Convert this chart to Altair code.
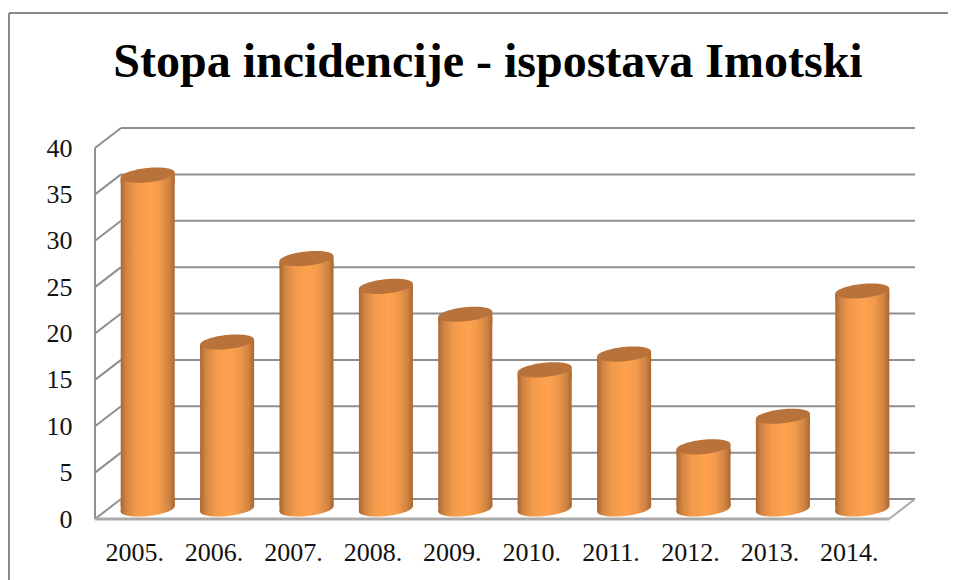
import altair as alt
import pandas as pd

years = ["2005.", "2006.", "2007.", "2008.", "2009.", "2010.", "2011.", "2012.", "2013.", "2014."]
values = [36, 18, 27, 24, 21, 15, 16.7, 6.7, 10, 23.5]
grid_levels = [0, 5, 10, 15, 20, 25, 30, 35, 40]
title_text = "Stopa incidencije - ispostava Imotski"

W, H = 794, 371
DX, DY = 26, -20
BAR = 54
FONT = "Liberation Serif"
GRID = "#8f8f8f"
ELL = "M-1,0.1 A1,0.26 -6 1 1 1,-0.1 A1,0.26 -6 1 1 -1,0.1 Z"
WEDGE_TOP = "M-1,0.1 L1,-0.1 L1,0.3 L-1,0.3 Z"
WEDGE_BOTTOM = "M-1,0.1 L1,-0.1 L1,-0.3 L-1,-0.3 Z"

df = pd.DataFrame({"year": years, "v": values, "zero": [0] * len(years)})
gf = pd.DataFrame({"v": grid_levels})

body = alt.Gradient(
    gradient="linear", x1=0, x2=1, y1=0, y2=0,
    stops=[
        alt.GradientStop(offset=0, color="#a9662f"),
        alt.GradientStop(offset=0.1, color="#d08443"),
        alt.GradientStop(offset=0.28, color="#f29a4b"),
        alt.GradientStop(offset=0.55, color="#ffa24f"),
        alt.GradientStop(offset=0.72, color="#f29a4b"),
        alt.GradientStop(offset=0.9, color="#cf8342"),
        alt.GradientStop(offset=1, color="#a9662f"),
    ],
)

xs = alt.Scale(domain=years, paddingInner=0.3, paddingOuter=0.15)
ys = alt.Scale(domain=[0, 40], nice=False)
y_axis = alt.Axis(values=grid_levels, labelFont=FONT, labelFontSize=26, labelColor="#111111",
                  domain=False, ticks=False, grid=False, labelPadding=23)
X = alt.X("year:N", scale=xs, sort=None, title=None,
          axis=alt.Axis(labelAngle=0, labelFont=FONT, labelFontSize=26, labelColor="#111111",
                        domain=False, ticks=False, grid=False, labelPadding=20))


def Y(field):
    return alt.Y(field, scale=ys, title=None, axis=y_axis)


back = alt.Chart(gf).mark_rule(color=GRID, strokeWidth=2, xOffset=DX, x2Offset=DX, yOffset=DY).encode(
    x=alt.value(0), x2=alt.value(W), y=Y("v:Q"))
diag = alt.Chart(gf).mark_rule(color=GRID, strokeWidth=2, y2Offset=DY).encode(
    x=alt.value(0), x2=alt.value(DX), y=Y("v:Q"), y2="v:Q")
left = alt.Chart(gf).mark_rule(color=GRID, strokeWidth=2).encode(
    x=alt.value(0), y=alt.value(0), y2=alt.value(H))
floor = alt.Chart(gf.head(1)).mark_rule(color="#aaaaaa", strokeWidth=3).encode(
    x=alt.value(0), x2=alt.value(W), y=Y("v:Q"))
rdiag = alt.Chart(gf.head(1)).mark_rule(color="#aaaaaa", strokeWidth=2, y2Offset=DY).encode(
    x=alt.value(W), x2=alt.value(W + DX), y=Y("v:Q"), y2="v:Q")


def symbol(shape, fill, field):
    return alt.Chart(df).mark_point(shape=shape, size=BAR * BAR, filled=True, fill=fill, opacity=1,
                                    xOffset=13, yOffset=-10, stroke=None).encode(x=X, y=Y(field))


bottoms = symbol(ELL, body, "zero:Q")
wedge_b = symbol(WEDGE_BOTTOM, body, "zero:Q")
bars = alt.Chart(df).mark_bar(size=BAR, fill=body, xOffset=13, yOffset=-7, y2Offset=-13).encode(
    x=X, y=Y("v:Q"), y2="zero:Q")
wedge_t = symbol(WEDGE_TOP, body, "v:Q")
tops = symbol(ELL, "#b8723a", "v:Q")

frame_top = alt.Chart(gf.head(1)).mark_rule(color="#8a8a8a", strokeWidth=2).encode(
    x=alt.value(-86), x2=alt.value(853), y=alt.value(-135))
frame_left = alt.Chart(gf.head(1)).mark_rule(color="#8a8a8a", strokeWidth=2).encode(
    x=alt.value(-86), y=alt.value(-135), y2=alt.value(440))

title_mark = alt.Chart(pd.DataFrame({"t": [title_text]})).mark_text(
    font=FONT, fontSize=48, fontWeight="bold", color="#000000", align="center", baseline="middle").encode(
    x=alt.value(393), y=alt.value(-85), text="t:N")

chart = alt.layer(
    frame_top, frame_left, title_mark, back, diag, left, floor, rdiag,
    bottoms, wedge_b, bars, wedge_t, tops,
).properties(
    width=W, height=H,
    padding={"left": 87, "top": 140, "right": 59, "bottom": 61},
    autosize=alt.AutoSizeParams(type="none"),
    background="white",
).configure_view(stroke=None)

chart.save("out.html", embed_options={"renderer": "svg", "actions": False})
